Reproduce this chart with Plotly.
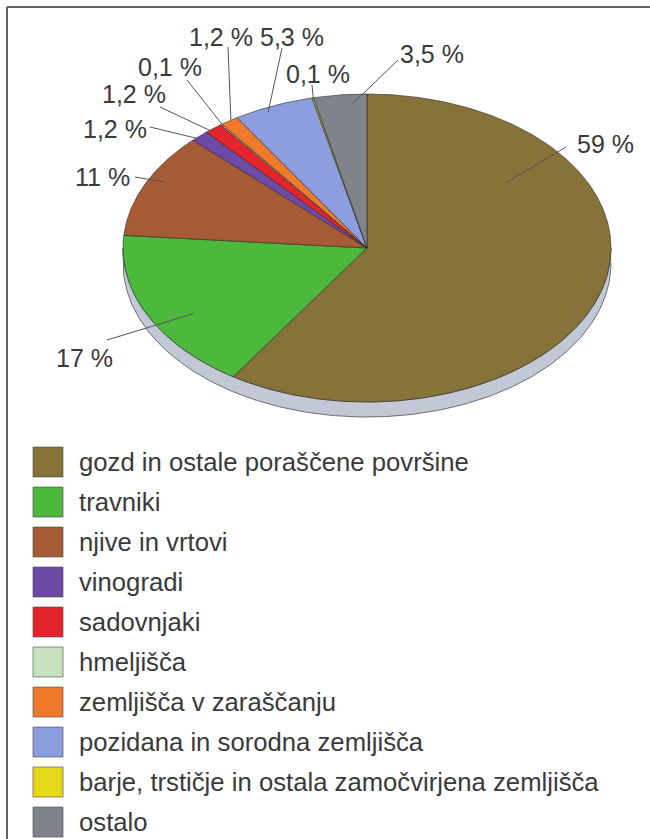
import numpy as np
import plotly.graph_objects as go

# ---------------- data ----------------
categories = [
    "gozd in ostale poraščene površine",
    "travniki",
    "njive in vrtovi",
    "vinogradi",
    "sadovnjaki",
    "hmeljišča",
    "zemljišča v zaraščanju",
    "pozidana in sorodna zemljišča",
    "barje, trstičje in ostala zamočvirjena zemljišča",
    "ostalo",
]
values = [59, 17, 11, 1.2, 1.2, 0.1, 1.2, 5.3, 0.1, 3.5]
value_labels = ["59 %", "17 %", "11 %", "1,2 %", "1,2 %", "0,1 %", "1,2 %", "5,3 %", "0,1 %", "3,5 %"]

# ---------------- styles / layout ----------------
colors = ["#87733a", "#4cb83c", "#a65a35", "#6d4aa6", "#e3252b",
          "#c8e2c0", "#f07a2c", "#8c9ede", "#e6d81a", "#80848a"]
W, H = 650, 839
CX, CY, RX, RY, DEPTH = 367, 248, 244, 154, 15
FONT = "Liberation Sans, Arial, sans-serif"
TXT = "#3a3a3a"

# label placement: (text x, text y, leader start x, leader start y, fraction within slice, radial fraction)
label_layout = [
    (605, 144, 566, 147, 0.25, 0.71),
    (84, 358, 107, 340, 0.42, 0.83),
    (102, 177, 135, 177, 0.57, 0.93),
    (115, 129, 150, 127, 0.30, 0.99),
    (134, 94, 160, 107, 0.30, 0.98),
    (170, 67, 187, 80, 0.50, 0.98),
    (221, 37, 228, 47, 0.60, 1.00),
    (292, 37, 282, 48, 0.39, 0.97),
    (318, 74, 312, 85, 0.50, 0.99),
    (432, 54, 398, 60, 0.72, 0.94),
]


def ell(theta_deg, r=1.0, dy=0.0):
    t = np.radians(theta_deg)
    return CX + r * RX * np.sin(t), CY - r * RY * np.cos(t) + dy


fig = go.Figure()

# side of the 3D disc (front half)
phi = np.linspace(90, 270, 200)
xs_top, ys_top = ell(phi)
xs_bot, ys_bot = ell(phi[::-1], dy=DEPTH)
fig.add_trace(go.Scatter(
    x=np.concatenate([xs_top, xs_bot]), y=np.concatenate([ys_top, ys_bot]),
    fill="toself", fillcolor="#c3c8d6", mode="lines",
    line=dict(color="#6a6e78", width=1), hoverinfo="skip", showlegend=False))

# slices
total = sum(values)
cum = 0.0
angles = []
for name, v, c in zip(categories, values, colors):
    a0 = cum / total * 360
    a1 = (cum + v) / total * 360
    angles.append((a0, a1))
    cum += v
    th = np.linspace(a0, a1, max(3, int((a1 - a0) * 2)))
    ex, ey = ell(th)
    fig.add_trace(go.Scatter(
        x=np.concatenate([[CX], ex, [CX]]), y=np.concatenate([[CY], ey, [CY]]),
        fill="toself", fillcolor=c, mode="lines",
        line=dict(color="rgba(40,40,40,0.75)", width=0.8),
        name=name, hoverinfo="name", showlegend=False))

shapes = []
annotations = []

# value labels + leader lines
for (a0, a1), txt, (tx, ty, lx, ly, tf, rf) in zip(angles, value_labels, label_layout):
    ax_, ay_ = ell(a0 + tf * (a1 - a0), r=rf)
    shapes.append(dict(type="line", x0=lx, y0=ly, x1=float(ax_), y1=float(ay_),
                       xref="x", yref="y", line=dict(color="#555555", width=1)))
    annotations.append(dict(x=tx, y=ty, xref="x", yref="y", text=txt, showarrow=False,
                            xanchor="center", yanchor="middle",
                            font=dict(family=FONT, size=25, color=TXT)))

# legend
for i, (name, c) in enumerate(zip(categories, colors)):
    yc = 462 + 40 * i
    shapes.append(dict(type="rect", x0=33, x1=63, y0=yc - 15, y1=yc + 15,
                       xref="x", yref="y", fillcolor=c,
                       line=dict(color="rgba(70,70,70,0.6)", width=1)))
    annotations.append(dict(x=77, y=yc, xref="x", yref="y", text=name, showarrow=False,
                            xanchor="left", yanchor="middle",
                            font=dict(family=FONT, size=25.7, color=TXT)))

# frame
shapes.append(dict(type="line", x0=7, x1=W, y0=7, y1=7, xref="x", yref="y",
                   line=dict(color="#666666", width=2)))
shapes.append(dict(type="line", x0=7, x1=7, y0=7, y1=H, xref="x", yref="y",
                   line=dict(color="#666666", width=2)))

fig.update_layout(
    width=W, height=H, margin=dict(l=0, r=0, t=0, b=0),
    paper_bgcolor="white", plot_bgcolor="white",
    xaxis=dict(range=[0, W], visible=False, fixedrange=True),
    yaxis=dict(range=[H, 0], visible=False, fixedrange=True),
    shapes=shapes, annotations=annotations, showlegend=False,
)

fig.write_html("out.html", post_script="document.body.style.margin='0';",
               config={"displayModeBar": False})
